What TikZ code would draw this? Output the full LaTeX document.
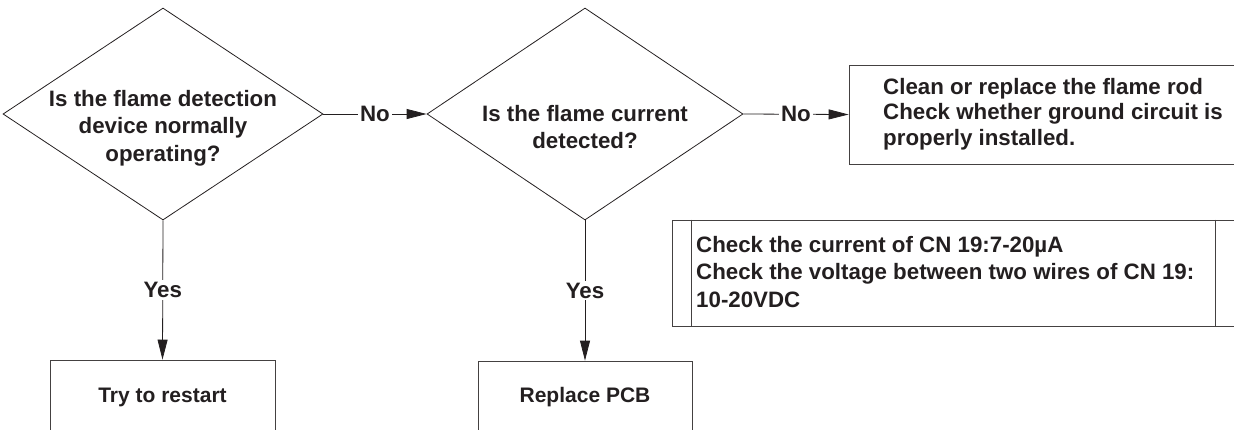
\documentclass[tikz,border=0pt]{standalone}
\usepackage{fontspec}
\setmainfont{Liberation Sans}
\usetikzlibrary{shapes.geometric,arrows.meta}
\definecolor{ink}{HTML}{231F20}
\begin{document}
\begin{tikzpicture}[x=1pt,y=-1pt,
  txt/.style={font=\fontsize{22.3}{27.5}\selectfont\bfseries, text=ink},
  small/.style={font=\fontsize{21}{26}\selectfont\bfseries, text=ink},
  dia/.style={diamond, draw=ink, line width=0.8pt, inner sep=0pt, minimum height=212pt},
  box/.style={rectangle, draw=ink!85, line width=0.8pt, inner sep=0pt, small},
  conn/.style={draw=ink, line width=0.8pt, -{Triangle[length=20pt,width=10pt]}},
  lbl/.style={txt, fill=white, inner sep=2pt}]
\useasboundingbox (0,0) rectangle (1234,429);
\clip (0,0) rectangle (1234,429);
% decisions
\node[dia, minimum width=320pt] (d1) at (163,114) {};
\node[txt, align=center] (t1) at (163,128) {Is the flame detection\\device normally\\operating?};
\node[dia, minimum width=316pt] (d2) at (585,114) {};
\node[txt, align=center] (t2) at (585,127) {Is the flame current\\detected?};
% boxes
\node[box, minimum width=225pt, minimum height=74pt] (b1) at (162.5,397) {Try to restart};
\node[box, minimum width=214pt, minimum height=72pt] (b2) at (585,397) {Replace PCB};
\node[box, minimum width=401pt, minimum height=99pt] (b3) at (1049.5,114.5) {};
\node[txt, align=left, anchor=west, inner sep=0pt, font=\fontsize{22.3}{25.5}\selectfont\bfseries] (t3) at (883,114) {Clean or replace the flame rod\\Check whether ground circuit is\\properly installed.};
\node[box, minimum width=578pt, minimum height=106pt] (b4) at (961,273) {};
\draw[draw=ink!85, line width=0.8pt] ([xshift=20pt]b4.north west) -- ([xshift=20pt]b4.south west);
\draw[draw=ink!85, line width=0.8pt] ([xshift=544pt]b4.north west) -- ([xshift=544pt]b4.south west);
\node[txt, align=left, anchor=west, inner sep=0pt] (t4) at (696,272) {Check the current of CN 19:7-20\textmu A\\Check the voltage between two wires of CN 19:\\10-20VDC};
% connectors
\draw[conn] (d1.east) -- node[lbl] (n1) {No} (d2.west);
\draw[conn] (d2.east) -- node[lbl] (n2) {No} (b3.west);
\draw[conn] (d1.south) -- node[lbl] (y1) {Yes} (b1.north);
\draw[conn] (d2.south) -- node[lbl] (y2) {Yes} (b2.north);
\end{tikzpicture}
\end{document}
